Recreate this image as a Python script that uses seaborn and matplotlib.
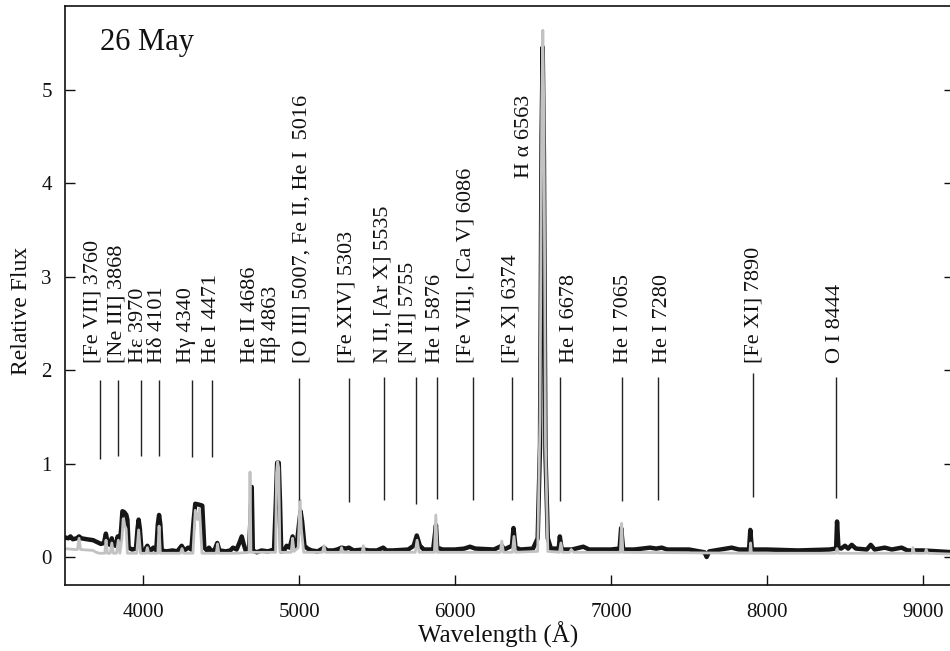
import numpy as np
import pandas as pd
import matplotlib
matplotlib.use("Agg")
import matplotlib.pyplot as plt
import seaborn as sns

# ---------------- data ----------------
wl_black = [3500, 3520, 3535, 3550, 3575, 3590, 3605, 3640, 3680, 3705, 3730, 3750, 3762, 3775,
            3790, 3800, 3808, 3825, 3838, 3850, 3860, 3868, 3880, 3893, 3900, 3908, 3930, 3955,
            3965, 3972, 3980, 3990, 4010, 4028, 4045, 4066, 4085, 4095, 4103, 4111, 4120, 4150,
            4190, 4220, 4248, 4265, 4290, 4310, 4325, 4335, 4360, 4380, 4393, 4410, 4423, 4440,
            4460, 4476, 4490, 4530, 4560, 4577, 4600, 4620, 4633, 4645, 4660, 4680, 4690, 4697,
            4704, 4730, 4760, 4800, 4840, 4852, 4860, 4870, 4878, 4886, 4905, 4921, 4940, 4959,
            4970, 4985, 5000, 5010, 5020, 5035, 5055, 5080, 5120, 5160, 5180, 5220, 5245, 5273,
            5300, 5320, 5350, 5412, 5450, 5500, 5540, 5560, 5600, 5700, 5735, 5755, 5775, 5800,
            5860, 5872, 5878, 5886, 5920, 6000, 6060, 6096, 6130, 6250, 6300, 6315, 6365, 6375,
            6388, 6420, 6500, 6530, 6545, 6555, 6562, 6570, 6580, 6595, 6615, 6665, 6672, 6684,
            6750, 6822, 6860, 7000, 7055, 7065, 7078, 7150, 7250, 7290, 7325, 7360, 7500, 7600,
            7613, 7630, 7700, 7774, 7820, 7885, 7893, 7903, 8000, 8200, 8400, 8443, 8449, 8458,
            8475, 8500, 8520, 8543, 8570, 8640, 8665, 8690, 8755, 8800, 8863, 8900, 9000, 9100,
            9200]
flux_black = [0.21, 0.20, 0.22, 0.19, 0.20, 0.22, 0.20, 0.19, 0.18, 0.16, 0.14, 0.15, 0.25, 0.14,
              0.13, 0.20, 0.13, 0.12, 0.22, 0.14, 0.30, 0.49, 0.48, 0.45, 0.40, 0.10, 0.08, 0.09,
              0.30, 0.40, 0.30, 0.08, 0.07, 0.12, 0.06, 0.10, 0.07, 0.35, 0.45, 0.35, 0.07, 0.06,
              0.07, 0.06, 0.12, 0.07, 0.10, 0.08, 0.40, 0.57, 0.56, 0.55, 0.10, 0.07, 0.10, 0.06,
              0.08, 0.15, 0.07, 0.06, 0.07, 0.10, 0.08, 0.16, 0.22, 0.14, 0.06, 0.07, 0.45, 0.75,
              0.07, 0.05, 0.07, 0.06, 0.08, 0.60, 1.01, 1.01, 0.60, 0.06, 0.07, 0.12, 0.10, 0.22,
              0.10, 0.12, 0.35, 0.49, 0.38, 0.12, 0.09, 0.07, 0.06, 0.10, 0.07, 0.07, 0.08, 0.10,
              0.09, 0.10, 0.07, 0.08, 0.07, 0.07, 0.10, 0.07, 0.07, 0.08, 0.12, 0.23, 0.12, 0.08,
              0.08, 0.25, 0.34, 0.10, 0.08, 0.08, 0.09, 0.11, 0.09, 0.08, 0.12, 0.08, 0.12, 0.31,
              0.10, 0.08, 0.09, 0.20, 1.20, 4.50, 5.46, 4.30, 1.10, 0.20, 0.09, 0.09, 0.22, 0.08,
              0.08, 0.11, 0.08, 0.08, 0.09, 0.31, 0.08, 0.08, 0.10, 0.09, 0.10, 0.08, 0.08, 0.05,
              0.00, 0.06, 0.08, 0.10, 0.08, 0.08, 0.29, 0.08, 0.08, 0.07, 0.08, 0.09, 0.38, 0.10,
              0.09, 0.12, 0.09, 0.13, 0.09, 0.08, 0.13, 0.08, 0.10, 0.08, 0.10, 0.07, 0.07, 0.06,
              0.05]

wl_gray = [3500, 3560, 3580, 3590, 3600, 3680, 3700, 3720, 3755, 3763, 3772, 3790, 3800, 3810,
           3830, 3842, 3852, 3865, 3873, 3882, 3892, 3900, 3960, 3972, 3984, 4020, 4028, 4036,
           4095, 4103, 4111, 4240, 4250, 4260, 4320, 4335, 4350, 4362, 4378, 4470, 4478, 4486,
           4600, 4680, 4686, 4692, 4850, 4856, 4863, 4870, 4878, 4950, 4959, 4968, 4995, 5006,
           5015, 5030, 5150, 5160, 5170, 5265, 5273, 5280, 5405, 5412, 5420, 5745, 5757, 5770,
           5868, 5877, 5886, 6290, 6300, 6310, 6368, 6378, 6388, 6530, 6545, 6556, 6563, 6570,
           6580, 6595, 6670, 6679, 6688, 6735, 6745, 6760, 7060, 7068, 7076, 7890, 7895, 7900,
           8440, 8449, 8458, 8930, 8935, 8945, 9015, 9020, 9030, 9200]
flux_gray = [0.09, 0.08, 0.08, 0.20, 0.08, 0.07, 0.05, 0.04, 0.04, 0.18, 0.04, 0.04, 0.15, 0.04,
             0.04, 0.18, 0.04, 0.20, 0.41, 0.34, 0.30, 0.04, 0.04, 0.29, 0.04, 0.04, 0.10, 0.04,
             0.04, 0.33, 0.04, 0.04, 0.09, 0.04, 0.04, 0.50, 0.40, 0.52, 0.04, 0.04, 0.14, 0.04,
             0.04, 0.05, 0.91, 0.05, 0.05, 0.90, 1.02, 0.95, 0.05, 0.05, 0.20, 0.06, 0.10, 0.61,
             0.30, 0.05, 0.05, 0.12, 0.05, 0.05, 0.10, 0.05, 0.05, 0.12, 0.05, 0.05, 0.18, 0.05,
             0.05, 0.45, 0.05, 0.05, 0.17, 0.05, 0.05, 0.22, 0.05, 0.06, 1.50, 4.80, 5.64, 4.70,
             1.20, 0.06, 0.05, 0.15, 0.05, 0.05, 0.08, 0.05, 0.05, 0.36, 0.05, 0.04, 0.15, 0.04,
             0.04, 0.09, 0.04, 0.04, 0.10, 0.04, 0.04, 0.08, 0.04, 0.03]

marker_wl = [3724, 3838, 3987, 4100, 4314, 4442, 5000, 5318, 5547, 5748, 5882, 6113, 6363,
             6671, 7068, 7303, 7908, 8442]
marker_bottom = [1.05, 1.08, 1.08, 1.08, 1.07, 1.07, 0.61, 0.59, 0.61, 0.57, 0.62, 0.61, 0.61,
                 0.60, 0.60, 0.61, 0.64, 0.63]
marker_top = [1.90, 1.90, 1.90, 1.90, 1.90, 1.90, 1.92, 1.92, 1.93, 1.93, 1.93, 1.93, 1.93,
              1.93, 1.93, 1.93, 1.97, 1.93]

line_labels = ["[Fe VII] 3760", "[Ne III] 3868", "Hε 3970", "Hδ 4101", "Hγ 4340", "He I 4471",
               "He II 4686", "Hβ 4863", "[O III] 5007, Fe II, He I  5016", "[Fe XIV] 5303",
               "N II, [Ar X] 5535", "[N II] 5755", "He I 5876", "[Fe VII], [Ca V] 6086",
               "[Fe X] 6374", "H α 6563", "He I 6678", "He I 7065", "He I 7280", "[Fe XI] 7890",
               "O I 8444"]
label_wl = [3679, 3833, 3974, 4096, 4282, 4442, 4692, 4821, 5019, 5308, 5538, 5699, 5878, 6071,
            6359, 6445, 6731, 7083, 7333, 7917, 8442]
label_y = [2.08] * 15 + [4.06] + [2.08] * 5

x_ticks = [4000, 5000, 6000, 7000, 8000, 9000]
y_ticks = [0, 1, 2, 3, 4, 5]

# ---------------- plotting ----------------
sns.set_theme(style="ticks")
plt.rcParams["font.family"] = ["Liberation Serif", "DejaVu Serif"]

fig = plt.figure(figsize=(9.5, 6.51), dpi=100)
ax = fig.add_axes([65 / 950, 66 / 651, 889.2 / 950, 579 / 651])

df_b = pd.DataFrame({"wl": wl_black, "flux": flux_black})
df_g = pd.DataFrame({"wl": wl_gray, "flux": flux_gray})
sns.lineplot(data=df_b, x="wl", y="flux", ax=ax, color="#161616", lw=3.2,
             estimator=None, sort=False, solid_joinstyle="round")
sns.lineplot(data=df_g, x="wl", y="flux", ax=ax, color="#c2c2c2", lw=2.0,
             estimator=None, sort=False, solid_joinstyle="round")

ax.vlines(marker_wl, marker_bottom, marker_top, color="#222222", lw=1.0)

for txt, xw, yv in zip(line_labels, label_wl, label_y):
    ax.text(xw, yv, txt, rotation=90, ha="center", va="bottom", fontsize=16,
            color="#111111")

ax.text((100 - 65) / 889.2, (585 - 50) / 579, "26 May",
        transform=ax.transAxes, fontsize=22, ha="left", va="baseline", color="#111111")

ax.set_xlim(3500, 9200)
ax.set_ylim(-0.3, 5.9)
ax.set_xticks(x_ticks)
ax.set_yticks(y_ticks)
ax.tick_params(axis="both", direction="in", length=7, width=1.0, labelsize=15,
               colors="#111111")
ax.tick_params(axis="y", right=True, pad=9.5)
ax.tick_params(axis="x", top=False, pad=13)
for s in ax.spines.values():
    s.set_linewidth(1.2)
    s.set_color("#111111")

ax.set_xlabel("Wavelength (Å)", fontsize=18, color="#111111")
ax.set_ylabel("Relative Flux", fontsize=17, color="#111111")
ax.xaxis.set_label_coords((498 - 65) / 889.2, (585 - 622) / 579)
ax.yaxis.set_label_coords((32 - 65) / 889.2, (585 - 311) / 579)

fig.savefig("out.png", dpi=100)
